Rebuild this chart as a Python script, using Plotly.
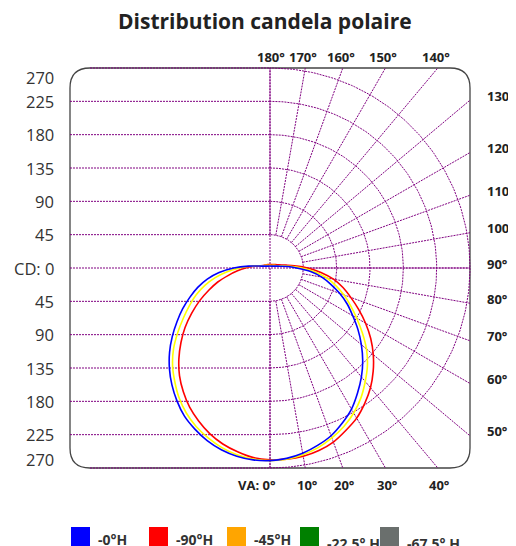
import numpy as np
import plotly.graph_objects as go

# ---------------- data ----------------
TITLE = "Distribution candela polaire"

# vertical angle gamma (deg, 0 = nadir, + = right side, - = left side)
ANGLES = [-180, -150, -120, -110, -100, -95,
          -90, -85, -80, -75, -70, -65, -60, -55, -50, -45, -40, -35, -30, -25, -20, -15, -10, -5,
          0, 5, 10, 15, 20, 25, 30, 35, 40, 45, 50, 55, 60, 65, 70, 75, 80, 85, 90,
          95, 100, 110, 120, 150, 180]
CD_0H = [2.7, 3, 5, 7.3, 15, 29,
         49, 69, 86, 101, 115, 130, 145, 161, 177, 192, 206, 219, 231, 240, 248, 254, 258, 260,
         260, 258, 254, 248, 241, 231, 220, 206, 192, 177, 161, 145, 129, 115, 100, 85, 71, 55, 36,
         24, 14, 7.3, 5, 3, 2.7]
CD_90H = [4.7, 5.3, 8, 10, 15, 24,
          33, 44, 57, 73, 88, 105, 122, 140, 157, 174, 190, 204, 217, 228, 238, 246, 252, 257,
          259, 259, 258, 255, 250, 242, 234, 223, 211, 197, 182, 166, 149, 132, 116, 102, 87, 69, 51,
          33, 22, 13, 9, 5.4, 4.7]
CD_45H = [3.6, 4, 7, 9, 17, 27,
          41, 58, 75, 91, 106, 120, 135, 152, 170, 186, 200, 214, 226, 236, 244, 251, 256, 259,
          260, 259, 256, 251, 244, 236, 226, 214, 200, 186, 170, 152, 135, 120, 106, 92, 78, 61, 43,
          27, 17, 9, 7, 4, 3.6]

SERIES_NAMES = ["-0°H", "-90°H", "-45°H", "-22.5° H", "-67.5° H"]
LEGEND_COLORS = ["#0000FF", "#FF0000", "#FFA500", "#008000", "#6A6F6D"]
LINE_COLORS = ["#0000FF", "#FF0000", "#FFFF00"]

CD_STEPS = [45, 90, 135, 180, 225, 270]
CD_TICKS = [270, 225, 180, 135, 90, 45, 0, -45, -90, -135, -180, -225, -270]
CD_TICK_TEXT = ["270", "225", "180", "135", "90", "45", "CD: 0",
                "45", "90", "135", "180", "225", "270"]
RADIAL_ANGLES = list(range(0, 181, 10))
TOP_ANGLES = [180, 170, 160, 150, 140]
RIGHT_ANGLES = [130, 120, 110, 100, 90, 80, 70, 60, 50]
BOTTOM_ANGLES = [0, 10, 20, 30, 40]
RMAX = 270

# ---------------- layout geometry ----------------
OFF = 8            # page body margin
FIG_W, FIG_H = 516 - OFF, 546 - OFF
W = H = 430
ML, MT = 55 - OFF, 53 - OFF
A = 290.25  # axis half range (cd)
FONT = "Open Sans"
GRID = "#800080"


def xp(cd):
    return (cd + A) / (2 * A)


def yp(cd):
    return (cd + A) / (2 * A)


def pxx(px):
    return (px - OFF - ML) / W


def pxy(py):
    return 1 - (py - OFF - MT) / H


fig = go.Figure()

# ---------------- grid ----------------
gx, gy = [], []
for v in CD_TICKS:
    x0 = -RMAX + (27 if abs(v) == RMAX else 0)
    x1 = RMAX if v == 0 else 0
    gx += [x0, x1, None]
    gy += [v, v, None]
gx += [0, 0, None]
gy += [-RMAX, RMAX, None]
t = np.radians(np.linspace(0, 180, 181))
for r in CD_STEPS:
    gx += list(r * np.sin(t)) + [None]
    gy += list(-r * np.cos(t)) + [None]
for a in RADIAL_ANGLES:
    g = np.radians(a)
    s, c = np.sin(g), -np.cos(g)
    rend = RMAX / max(abs(s), abs(c))
    gx += [CD_STEPS[0] * s, rend * s, None]
    gy += [CD_STEPS[0] * c, rend * c, None]
fig.add_trace(go.Scatter(x=gx, y=gy, mode="lines", hoverinfo="skip",
                         line=dict(color=GRID, width=1, dash="2px,1px"),
                         showlegend=False))

# ---------------- curves ----------------
g = np.radians(ANGLES)
for vals, col, name in [(CD_90H, LINE_COLORS[1], SERIES_NAMES[1]),
                        (CD_45H, LINE_COLORS[2], SERIES_NAMES[2]),
                        (CD_0H, LINE_COLORS[0], SERIES_NAMES[0])]:
    v = np.array(vals, dtype=float)
    fig.add_trace(go.Scatter(x=v * np.sin(g), y=-v * np.cos(g), mode="lines",
                             line=dict(color=col, width=1.6, shape="spline", smoothing=0.8),
                             name=name, showlegend=False))

# ---------------- border ----------------
R = 27
path = (f"M {-RMAX+R},{-RMAX} L {RMAX-R},{-RMAX} Q {RMAX},{-RMAX} {RMAX},{-RMAX+R} "
        f"L {RMAX},{RMAX-R} Q {RMAX},{RMAX} {RMAX-R},{RMAX} L {-RMAX+R},{RMAX} "
        f"Q {-RMAX},{RMAX} {-RMAX},{RMAX-R} L {-RMAX},{-RMAX+R} "
        f"Q {-RMAX},{-RMAX} {-RMAX+R},{-RMAX} Z")
shapes = [dict(type="path", path=path, xref="x", yref="y", layer="below",
               line=dict(color="#444444", width=1.3))]

ann = []


def label(text, x, y, size, color="#222222", xanchor="center", yanchor="middle",
          xshift=0, yshift=0):
    ann.append(dict(text=text, xref="paper", yref="paper", x=x, y=y,
                    xanchor=xanchor, yanchor=yanchor, xshift=xshift, yshift=yshift,
                    showarrow=False, font=dict(family=FONT, size=size, color=color)))


label("<b>" + TITLE + "</b>", pxx(265), pxy(21), 21)
for v, txt in zip(CD_TICKS, CD_TICK_TEXT):
    ysh = -10 if v == RMAX else (9 if v == -RMAX else 0)
    label(txt, pxx(56), yp(v), 16.5, color="#333333", xanchor="right", yshift=ysh)
for a in TOP_ANGLES:
    xcd = RMAX * np.tan(np.radians(180 - a))
    label(f"<b>{a}°</b>", xp(xcd), pxy(57), 13, xshift=-2 if a != 180 else 1)
for a in RIGHT_ANGLES:
    ycd = RMAX * np.tan(np.radians(a - 90))
    label(f"<b>{a}°</b>", pxx(485), yp(ycd), 13, xanchor="left", yshift=4.5)
for a in BOTTOM_ANGLES:
    xcd = RMAX * np.tan(np.radians(a))
    if a == 0:
        label(f"<b>VA: {a}°</b>", xp(xcd), pxy(485), 13, xanchor="right", xshift=8)
    else:
        label(f"<b>{a}°</b>", xp(xcd), pxy(485), 13, xshift=2)

leg_x = [71, 149, 227, 300, 380]
leg_ty = [539, 539, 539, 543, 543]
for i, (nm, col) in enumerate(zip(SERIES_NAMES, LEGEND_COLORS)):
    x0 = leg_x[i]
    shapes.append(dict(type="rect", xref="paper", yref="paper",
                       x0=pxx(x0), x1=pxx(x0 + 19), y0=pxy(527), y1=pxy(547),
                       fillcolor=col, line=dict(width=0)))
    label(f"<b>{nm}</b>", pxx(x0 + 25), pxy(leg_ty[i]), 14, color="#333333",
          xanchor="left")

fig.update_layout(
    width=FIG_W, height=FIG_H,
    margin=dict(l=ML, r=FIG_W - ML - W, t=MT, b=FIG_H - MT - H, pad=0),
    paper_bgcolor="white", plot_bgcolor="white",
    xaxis=dict(range=[-A, A], visible=False, showgrid=False, zeroline=False, fixedrange=True),
    yaxis=dict(range=[-A, A], visible=False, showgrid=False, zeroline=False, fixedrange=True),
    shapes=shapes, annotations=ann, showlegend=False,
)

fig.write_html("out.html")
